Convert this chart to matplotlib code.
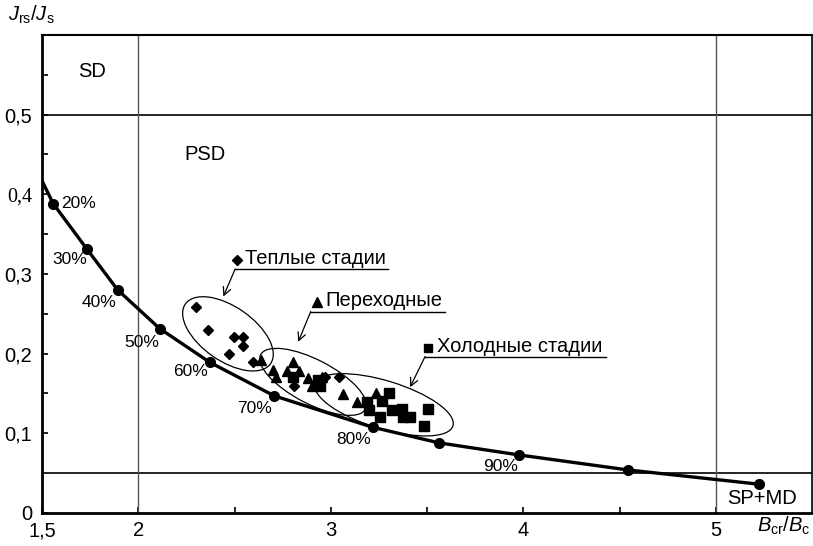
import matplotlib
matplotlib.use("Agg")
import matplotlib.pyplot as plt
from matplotlib.patches import Ellipse
from matplotlib.transforms import ScaledTranslation

plt.rcParams["font.family"] = ["Liberation Sans", "DejaVu Sans"]
plt.rcParams["mathtext.fontset"] = "custom"
plt.rcParams["mathtext.rm"] = "Liberation Sans"
plt.rcParams["mathtext.it"] = "Liberation Sans:italic"

# ---- данные ----
# кривая смешения SD + (SP+MD), точки через 10 %
mix_x = [1.504, 1.559, 1.734, 1.893, 2.111, 2.372, 2.706, 3.217, 3.561, 3.977, 4.545, 5.226]
mix_y = [0.415, 0.388, 0.331, 0.280, 0.2315, 0.189, 0.147, 0.1076, 0.088, 0.0728, 0.0539, 0.036]
pct_labels = ["20%", "30%", "40%", "50%", "60%", "70%", "80%", "90%"]
pct_x = [1.599, 1.645, 1.796, 2.018, 2.269, 2.606, 3.121, 3.884]
pct_y = [0.389, 0.318, 0.264, 0.2145, 0.177, 0.1306, 0.0916, 0.0577]

warm_x = [2.300, 2.364, 2.499, 2.543, 2.543, 2.473, 2.598, 2.811, 2.970, 3.044]
warm_y = [0.259, 0.230, 0.221, 0.221, 0.210, 0.199, 0.190, 0.159, 0.171, 0.170]

trans_x = [2.638, 2.702, 2.716, 2.802, 2.771, 2.837, 2.880, 2.901, 2.955, 3.064, 3.135, 3.235]
trans_y = [0.192, 0.180, 0.170, 0.190, 0.178, 0.178, 0.169, 0.159, 0.171, 0.149, 0.139, 0.150]

cold_x = [2.805, 2.935, 2.944, 3.187, 3.200, 3.265, 3.304, 3.256, 3.317, 3.369, 3.377, 3.412, 3.504, 3.486]
cold_y = [0.171, 0.167, 0.159, 0.139, 0.129, 0.140, 0.150, 0.120, 0.129, 0.130, 0.120, 0.120, 0.130, 0.109]

fig = plt.figure(figsize=(8.13, 5.46), dpi=100)
ax = fig.add_axes([42 / 813, (546 - 512.9) / 546, 770 / 813, 477.9 / 546])
ax.set_xlim(1.5, 5.5)
ax.set_ylim(0, 0.6)

# границы областей Дэя
ax.axhline(0.5, color="black", lw=1.2)
ax.axhline(0.05, color="black", lw=1.2)
ax.axvline(2, color="#555555", lw=1.0)
ax.axvline(5, color="#555555", lw=1.0)

# кривая смешения
ax.plot(mix_x, mix_y, color="black", lw=2.4, zorder=3)
ax.plot(mix_x[1:], mix_y[1:], "o", color="black", ms=7, zorder=4)
for t, x, y in zip(pct_labels, pct_x, pct_y):
    ax.text(x, y, t, fontsize=12.5, ha="left" if t == "20%" else "center", va="center")

# эллипсы групп (размеры в пикселях)
for cx, cy, a, b, ang in [(2.466, 0.2248, 52, 27, -35),
                          (2.908, 0.1645, 59, 22, -27.5),
                          (3.277, 0.1357, 72, 24, -17)]:
    tr = fig.dpi_scale_trans + ScaledTranslation(cx, cy, ax.transData)
    ax.add_patch(Ellipse((0, 0), 2 * a / 100, 2 * b / 100, angle=ang,
                         transform=tr, fill=False, lw=0.9, color="black", zorder=2))

ax.plot(warm_x, warm_y, "D", color="black", ms=5.5, zorder=5)
ax.plot(trans_x, trans_y, "^", color="black", ms=7.5, zorder=5)
ax.plot(cold_x, cold_y, "s", color="black", ms=6.5, zorder=5)

# подписи групп с выносками
for mk, ms, text, mx, my, tx, ux0, ux1, uy, px, py in [
        ("D", 5, "Теплые стадии", 2.513, 0.318, 2.555, 2.503, 3.297, 0.306, 2.442, 0.2717),
        ("^", 7, "Переходные", 2.929, 0.265, 2.970, 2.896, 3.594, 0.2528, 2.831, 0.2148),
        ("s", 6, "Холодные стадии", 3.505, 0.2073, 3.552, 3.490, 4.430, 0.1963, 3.412, 0.1578)]:
    ax.plot([mx], [my], mk, color="black", ms=ms)
    ax.text(tx, my + 0.002, text, fontsize=14.5, ha="left", va="center")
    ax.plot([ux0, ux1], [uy, uy], color="black", lw=1.0)
    ax.annotate("", xy=(px, py), xytext=(ux0, uy),
                arrowprops=dict(arrowstyle="->", color="black", lw=0.9,
                                shrinkA=0, shrinkB=0, mutation_scale=14))

ax.text(1.760, 0.554, "SD", fontsize=14.5, ha="center", va="center")
ax.text(2.347, 0.450, "PSD", fontsize=14.5, ha="center", va="center")
ax.text(5.240, 0.0187, "SP+MD", fontsize=14.5, ha="center", va="center")

# оси
ax.set_xticks([1.5, 2, 3, 4, 5])
ax.set_xticklabels(["1,5", "2", "3", "4", "5"])
ax.set_xticks([2.5, 3.5, 4.5], minor=True)
ax.set_yticks([0, 0.1, 0.2, 0.3, 0.4, 0.5])
ax.set_yticklabels(["0", "0,1", "0,2", "0,3", "0,4", "0,5"])
ax.set_yticks([0.15, 0.25, 0.35, 0.45, 0.55], minor=True)
ax.get_yticklabels()[4].set_family("Liberation Serif")
ax.tick_params(direction="in", length=4, width=1.2, labelsize=14.5, pad=6)
ax.tick_params(which="minor", direction="in", length=4, width=1.2)
ax.tick_params(axis="y", pad=7)
for s in ["left", "bottom"]:
    ax.spines[s].set_linewidth(2.0)
ax.spines["top"].set_linewidth(1.5)
ax.spines["right"].set_linewidth(1.2)

fig.text(8 / 813, 1 - 15 / 546, r"$J_{\rm rs}/J_{\rm s}$", fontsize=14.5, ha="left", va="center")
fig.text(810 / 813, 1 - 526 / 546, r"$B_{\rm cr}/B_{\rm c}$", fontsize=14.5, ha="right", va="center")

fig.savefig("out.png", dpi=100)
